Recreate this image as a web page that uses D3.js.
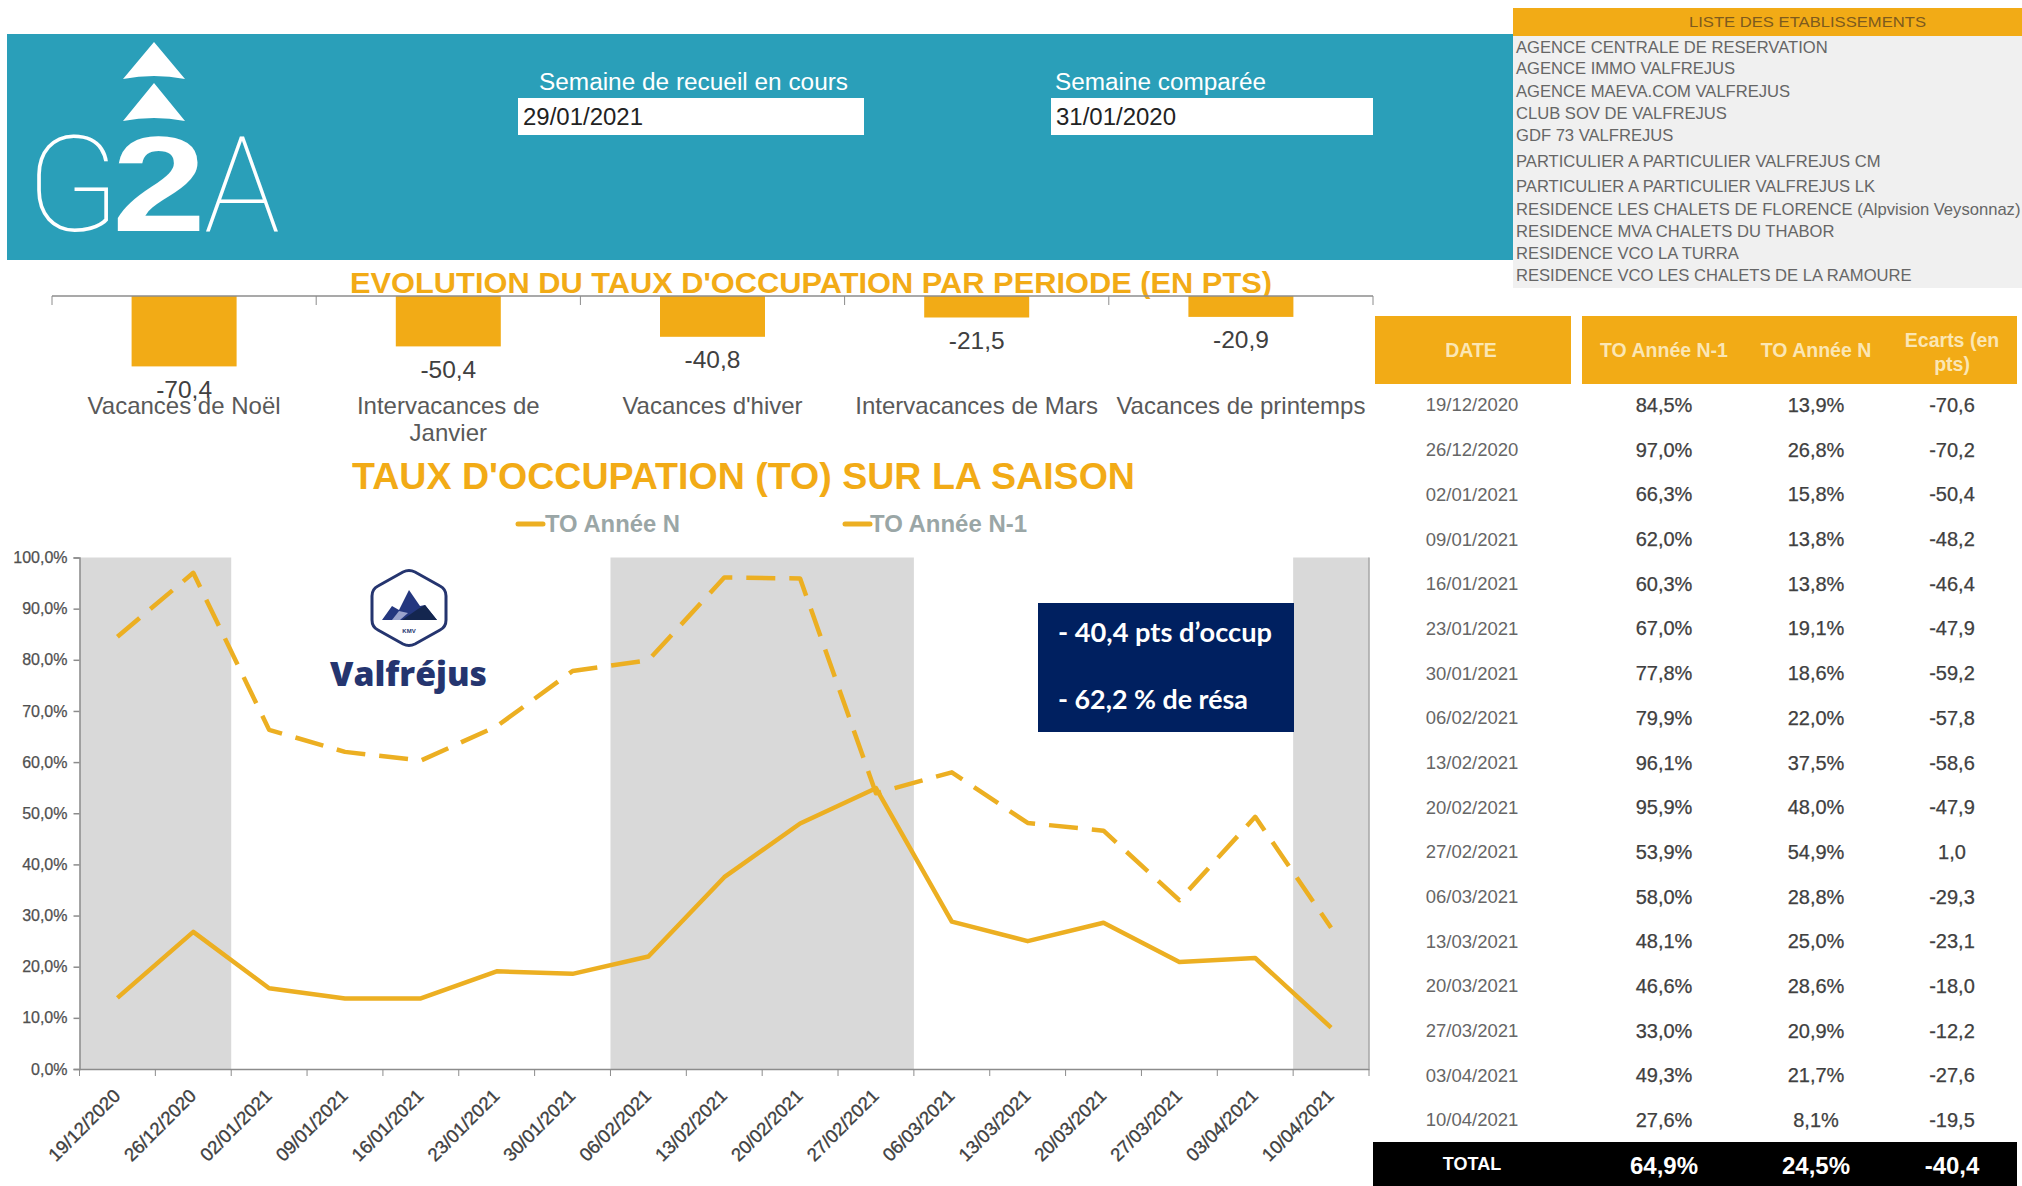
<!DOCTYPE html>
<html lang="fr">
<head>
<meta charset="utf-8">
<title>Taux d'occupation</title>
<script src="https://cdn.jsdelivr.net/npm/d3@7/dist/d3.min.js"></script>
<style>
html,body{margin:0;padding:0;background:#fff;overflow:hidden}
svg{display:block}
text{font-family:"Liberation Sans",Arial,sans-serif}
</style>
</head>
<body>
<svg id="c" width="2022" height="1186"></svg>
<script>
const dates = ["19/12/2020","26/12/2020","02/01/2021","09/01/2021","16/01/2021","23/01/2021","30/01/2021","06/02/2021","13/02/2021","20/02/2021","27/02/2021","06/03/2021","13/03/2021","20/03/2021","27/03/2021","03/04/2021","10/04/2021"];
const toN1 = [84.5,97.0,66.3,62.0,60.3,67.0,77.8,79.9,96.1,95.9,53.9,58.0,48.1,46.6,33.0,49.3,27.6];
const toN = [13.9,26.8,15.8,13.8,13.8,19.1,18.6,22.0,37.5,48.0,54.9,28.8,25.0,28.6,20.9,21.7,8.1];
const ecarts = [-70.6,-70.2,-50.4,-48.2,-46.4,-47.9,-59.2,-57.8,-58.6,-47.9,1.0,-29.3,-23.1,-18.0,-12.2,-27.6,-19.5];
const totals = {label:"TOTAL", n1:64.9, n:24.5, ecart:-40.4};
const shadedPeriods = [["19/12/2020","26/12/2020"],["06/02/2021","27/02/2021"],["10/04/2021","10/04/2021"]];
const periods = ["Vacances de Noël","Intervacances de|Janvier","Vacances d'hiver","Intervacances de Mars","Vacances de printemps"];
const periodValues = [-70.4,-50.4,-40.8,-21.5,-20.9];
const yTicks = [0,10,20,30,40,50,60,70,80,90,100];
const establishments = ["AGENCE CENTRALE DE RESERVATION","AGENCE IMMO VALFREJUS","AGENCE MAEVA.COM VALFREJUS","CLUB SOV DE VALFREJUS","GDF 73 VALFREJUS","PARTICULIER A PARTICULIER VALFREJUS CM","PARTICULIER A PARTICULIER VALFREJUS LK","RESIDENCE LES CHALETS DE FLORENCE (Alpvision Veysonnaz)","RESIDENCE MVA CHALETS DU THABOR","RESIDENCE VCO LA TURRA","RESIDENCE VCO LES CHALETS DE LA RAMOURE"];
const establishmentRowY = [47,68.5,91,113,135,161,186,209,231,253,275];

const ORANGE = "#f2ab16", LINE = "#ecaf22", TEAL = "#2a9fb9", NAVY = "#25356f";
const fr = (v,d=1) => v.toFixed(d).replace(".",",");
const svg = d3.select("#c");
const txt = (g,x,y,s,o={}) => {
  const t = g.append("text").attr("x",x).attr("y",y).attr("dy","0.35em")
    .attr("text-anchor",o.anchor||"start").attr("fill",o.fill||"#444")
    .attr("font-size",o.size||16).attr("font-weight",o.weight||"normal").text(s);
  if(o.family) t.style("font-family",o.family);
  if(o.len) t.attr("textLength",o.len).attr("lengthAdjust","spacingAndGlyphs");
  if(o.stroke) t.attr("stroke",o.fill||"#444").attr("stroke-width",o.stroke);
  return t;
};

/* ---------- banner ---------- */
const ban = svg.append("g");
ban.append("rect").attr("x",7).attr("y",34).attr("width",1506).attr("height",226).attr("fill",TEAL);
[[42,79],[83,121]].forEach(([a,b])=>{
  ban.append("path").attr("fill","#fff").attr("d",`M154 ${a}L185 ${b}Q154 ${b-6} 123 ${b}Z`);
});
txt(ban,26,184,"G",{fill:"#fff",size:133,weight:100,family:"Roboto",len:94});
txt(ban,112,183,"2",{fill:"#fff",size:136,weight:"bold",len:94});
txt(ban,204,184,"A",{fill:"#fff",size:133,weight:100,family:"Roboto",len:76});
txt(ban,539,82,"Semaine de recueil en cours",{fill:"#fff",size:23,len:309});
txt(ban,1055,82,"Semaine comparée",{fill:"#fff",size:23,len:211});
ban.append("rect").attr("x",518).attr("y",98).attr("width",346).attr("height",37).attr("fill","#fff");
ban.append("rect").attr("x",1051).attr("y",98).attr("width",322).attr("height",37).attr("fill","#fff");
txt(ban,523,117,"29/01/2021",{fill:"#222",size:23,len:120});
txt(ban,1056,117,"31/01/2020",{fill:"#222",size:23,len:120});

/* ---------- establishment list ---------- */
const list = svg.append("g");
list.append("rect").attr("x",1513).attr("y",36).attr("width",509).attr("height",252).attr("fill","#f0f0f0");
list.append("rect").attr("x",1513).attr("y",8).attr("width",509).attr("height",28).attr("fill",ORANGE);
txt(list,1807.5,22,"LISTE DES ETABLISSEMENTS",{anchor:"middle",fill:"#7d5a1e",size:15.5,len:237});
establishments.forEach((e,i)=>txt(list,1516,establishmentRowY[i],e,{fill:"#666",size:16.6}));

/* ---------- period bar chart ---------- */
const barG = svg.append("g");
txt(barG,350,283,"EVOLUTION DU TAUX D'OCCUPATION PAR PERIODE (EN PTS)",{fill:ORANGE,size:29,weight:"bold",len:922});
const bandStep = d3.scaleBand().domain(periods).range([52,1373]);
const by = d3.scaleLinear().domain([-100,0]).range([396,296]);
barG.selectAll("rect.bar").data(periods).join("rect").attr("class","bar")
  .attr("x",(d)=>bandStep(d)+bandStep.bandwidth()/2-52.5).attr("width",105)
  .attr("y",by(0)).attr("height",(d,i)=>by(periodValues[i])-by(0)).attr("fill",ORANGE);
barG.append("line").attr("x1",52).attr("x2",1373).attr("y1",296).attr("y2",296).attr("stroke","#8c8c8c").attr("stroke-width",1.5);
barG.selectAll("line.t").data([...periods.map(d=>bandStep(d)),1373]).join("line").attr("class","t")
  .attr("x1",d=>d).attr("x2",d=>d).attr("y1",296).attr("y2",305).attr("stroke","#8c8c8c");
periods.forEach((p,i)=>{
  const cx = bandStep(p)+bandStep.bandwidth()/2;
  txt(barG,cx,by(periodValues[i])+23,fr(periodValues[i]),{anchor:"middle",fill:"#404040",size:24.5});
  p.split("|").forEach((l,j)=>txt(barG,cx,406+j*27,l,{anchor:"middle",fill:"#595959",size:24}));
});

/* ---------- season line chart ---------- */
const lg = svg.append("g");
txt(lg,352,476,"TAUX D'OCCUPATION (TO) SUR LA SAISON",{fill:ORANGE,size:37,weight:"bold",len:783});
const x = d3.scaleBand().domain(dates).range([79.5,1369]);
const y = d3.scaleLinear().domain([0,100]).range([1069,557.5]);
lg.selectAll("rect.sh").data(shadedPeriods).join("rect").attr("class","sh")
  .attr("x",d=>x(d[0])).attr("width",d=>x(d[1])+x.bandwidth()-x(d[0]))
  .attr("y",y(100)).attr("height",y(0)-y(100)).attr("fill","#d9d9d9");

const yAxis = d3.axisLeft(y).tickValues(yTicks).tickSize(6).tickFormat(d=>fr(d)+"%");
const gy = lg.append("g").attr("transform","translate(79.5,0)").call(yAxis);
gy.selectAll("text").attr("font-size",16).attr("fill","#505050").attr("stroke","#505050").attr("stroke-width",0.25).attr("dx","-3").style("font-family",'"Liberation Sans",Arial,sans-serif');
const xAxis = d3.axisBottom(x).tickSize(0).tickPadding(0);
const gx = lg.append("g").attr("transform","translate(0,1069)").call(xAxis);
gx.selectAll("text").attr("font-size",18.5).attr("fill","#404040").attr("stroke","#404040").attr("stroke-width",0.35).attr("text-anchor","end")
  .attr("dy",0).attr("y",0).attr("transform","translate(4,28) rotate(-45)").style("font-family",'"Liberation Sans",Arial,sans-serif');
lg.selectAll("line.xt").data([...dates.map(d=>x(d)),1369]).join("line").attr("class","xt")
  .attr("x1",d=>d).attr("x2",d=>d).attr("y1",1069).attr("y2",1076).attr("stroke","#8c8c8c");
[gx,gy].forEach(g=>{g.selectAll("path.domain,line").attr("stroke","#8c8c8c").attr("stroke-width",1.5);});
lg.append("line").attr("x1",1369).attr("x2",1369).attr("y1",557.5).attr("y2",1069).attr("stroke","#a6a6a6").attr("stroke-width",1.5);

const line = d3.line().x((d,i)=>x(dates[i])+x.bandwidth()/2).y(d=>y(d));
lg.append("path").datum(toN1).attr("d",line).attr("fill","none").attr("stroke",LINE).attr("stroke-width",4.5).attr("stroke-dasharray","29 14").attr("stroke-linejoin","round");
lg.append("path").datum(toN).attr("d",line).attr("fill","none").attr("stroke",LINE).attr("stroke-width",4.5).attr("stroke-linejoin","round");

[[518,543,545,"TO Année N",135],[845,870,870,"TO Année N-1",157]].forEach(([a,b,t,s,len])=>{
  lg.append("line").attr("x1",a).attr("x2",b).attr("y1",524).attr("y2",524).attr("stroke",LINE).attr("stroke-width",5).attr("stroke-linecap","round");
  txt(lg,t,524,s,{fill:"#9aa6a6",size:23,weight:"bold",len});
});

/* ---------- Valfréjus logo ---------- */
const vl = svg.append("g");
vl.append("path").attr("d","M403 572Q409 569 415 572L440 586Q446 589 446 596V620Q446 627 440 630L415 644Q409 647 403 644L378 630Q372 627 372 620V596Q372 589 378 586Z").attr("fill","#fff").attr("stroke",NAVY).attr("stroke-width",3);
vl.append("path").attr("d","M382 620L392 606L399 610L409 590L420 606L425 605L437 620Z").attr("fill","#24377f");
vl.append("path").attr("d","M402 620L418 609L425 605L437 620Z").attr("fill","#14264f");
vl.append("path").attr("d","M392 620L399 611L408 613L400 620Z").attr("fill","#9aa3cc");
txt(vl,409,631,"KMV",{anchor:"middle",fill:NAVY,size:6,weight:"bold"});
txt(vl,330,674,"Valfréjus",{fill:NAVY,size:33,weight:800,family:"'Open Sans'",len:157});

/* ---------- navy callout ---------- */
const box = svg.append("g");
box.append("rect").attr("x",1038).attr("y",603).attr("width",256).attr("height",129).attr("fill","#002060");
txt(box,1058,633,"- 40,4 pts d’occup",{fill:"#fff",size:26,weight:"bold",family:"Lato",len:214});
txt(box,1058,700,"- 62,2 % de résa",{fill:"#fff",size:26,weight:"bold",family:"Lato",len:190});

/* ---------- table ---------- */
const tb = svg.append("g");
const cols = {date:1471, n1:1664, n:1816, e:1952};
tb.append("rect").attr("x",1375).attr("y",316).attr("width",196).attr("height",68).attr("fill",ORANGE);
tb.append("rect").attr("x",1582).attr("y",316).attr("width",435).attr("height",68).attr("fill",ORANGE);
const H = {anchor:"middle",fill:"#fbe6b4",size:19.5,weight:"bold"};
txt(tb,cols.date,350,"DATE",H);
txt(tb,cols.n1,350,"TO Année N-1",H);
txt(tb,cols.n,350,"TO Année N",H);
txt(tb,cols.e,340,"Ecarts (en",H);
txt(tb,cols.e,364,"pts)",H);
const rowY = d3.scalePoint().domain(dates).range([405,1120]);
dates.forEach((d,i)=>{
  const ry = rowY(d);
  txt(tb,cols.date+1,ry,d,{anchor:"middle",fill:"#666",size:18.5});
  txt(tb,cols.n1,ry,fr(toN1[i])+"%",{anchor:"middle",fill:"#404040",size:20,stroke:0.25});
  txt(tb,cols.n,ry,fr(toN[i])+"%",{anchor:"middle",fill:"#404040",size:20,stroke:0.25});
  txt(tb,cols.e,ry,fr(ecarts[i]),{anchor:"middle",fill:"#404040",size:20,stroke:0.25});
});
tb.append("rect").attr("x",1373).attr("y",1142).attr("width",644).attr("height",44).attr("fill","#000");
txt(tb,1472,1164,totals.label,{anchor:"middle",fill:"#fff",size:18,weight:"bold"});
txt(tb,1664,1166,fr(totals.n1)+"%",{anchor:"middle",fill:"#fff",size:24,weight:"bold"});
txt(tb,1816,1166,fr(totals.n)+"%",{anchor:"middle",fill:"#fff",size:24,weight:"bold"});
txt(tb,1952,1166,fr(totals.ecart),{anchor:"middle",fill:"#fff",size:24,weight:"bold"});
</script>
</body>
</html>
